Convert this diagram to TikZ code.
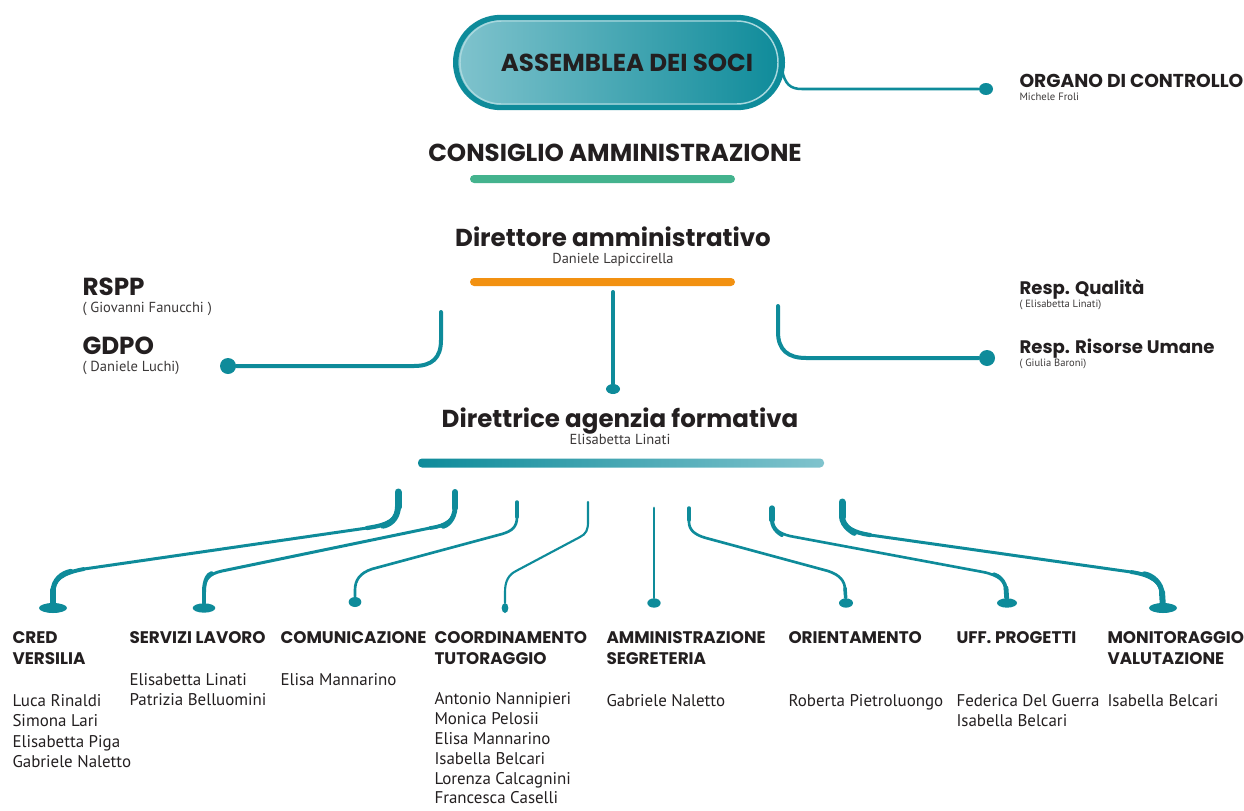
\documentclass[tikz,border=0pt]{standalone}
\usepackage{fontspec}
\setmainfont{PT Sans}
\newfontfamily\headfont{Poppins}
\usetikzlibrary{shapes.geometric}

\definecolor{tealdark}{HTML}{0E8B9A}
\definecolor{teallight}{HTML}{80C3CD}
\definecolor{tealpale}{HTML}{A9D8DE}
\definecolor{barGreen}{HTML}{44B38E}
\definecolor{barOrange}{HTML}{F29111}
\definecolor{ink}{HTML}{231F20}
\definecolor{subink}{HTML}{3B3838}

\tikzset{every picture/.style={line width=0.75pt}}
\tikzset{
  link/.style={draw=tealdark, line width=2.25pt, line cap=round},
  dot/.style={ellipse, fill=tealdark, inner sep=0pt},
  bar/.style={rounded corners=3pt, inner sep=0pt, minimum width=198.75pt, minimum height=6pt},
  bigtitle/.style={font=\headfont\bfseries\fontsize{18.4}{21}\selectfont, text=ink, inner sep=0pt},
  roletitle/.style={font=\headfont\bfseries\fontsize{13.6}{16}\selectfont, text=ink, inner sep=0pt},
  colhead/.style={font=\headfont\bfseries\fontsize{12.6}{15.75}\selectfont, text=ink, inner sep=0pt, align=left, anchor=north west},
  colnames/.style={font=\fontsize{12.7}{15.3}\selectfont, text=ink, inner sep=0pt, align=left, anchor=north west},
  who/.style={text=subink, inner sep=0pt}
}

\begin{document}
\begin{tikzpicture}[x=0.75pt,y=0.75pt,yscale=-1,xscale=1]
\useasboundingbox (0,0) rectangle (1244,810);

%Shape: Pill [id:assemblea]
\node[draw=tealdark, line width=4pt, rounded corners=33.7pt, left color=teallight, right color=tealdark,
      minimum width=245pt, minimum height=67.5pt, bigtitle] (assemblea) at (619,62.5) {\hspace{12pt}ASSEMBLEA DEI SOCI};
\draw[tealpale, line width=1.1pt, rounded corners=31pt] (460,21) rectangle (778,104);

%Organo di controllo
\coordinate (aout) at (782,70);
\node[dot, minimum width=10.5pt, minimum height=9pt] (odot) at (986,89) {};
\draw[link, line width=1.9pt] (aout) .. controls (785,84) and (790,89) .. (802,89) -- (odot);
\node[roletitle, font=\headfont\bfseries\fontsize{14}{16}\selectfont, anchor=base west] (organo) at (1019,87) {ORGANO DI CONTROLLO};
\node[who, font=\fontsize{8}{9}\selectfont, anchor=base west] (froli) at (1019,100) {Michele Froli};

%Consiglio
\node[bigtitle] (consiglio) at (615,153) {CONSIGLIO AMMINISTRAZIONE};
\node[bar, fill=barGreen] (cdabar) at (602.5,179) {};

%Direttore amministrativo
\node[bigtitle, text depth=0pt, anchor=base] (direttore) at (613,246) {Direttore amministrativo};
\node[who, font=\fontsize{10.8}{12}\selectfont, anchor=base] (lapiccirella) at (613,263) {Daniele Lapiccirella};
\node[bar, fill=barOrange] (dirbar) at (602.5,282) {};

%Straight Lines [id:direttore-direttrice]
\coordinate (dout) at (613,292);
\node[dot, minimum width=10.5pt, minimum height=7.5pt] (ddot) at (613,389) {};
\draw[link, line width=3pt] (dout) -- (ddot);

%RSPP / GDPO
\node[bigtitle, font=\headfont\bfseries\fontsize{18.5}{21}\selectfont, anchor=base west] (rspp) at (82,295) {RSPP};
\node[who, font=\fontsize{10.9}{12}\selectfont, anchor=base west] (fanucchi) at (82,312) {( Giovanni Fanucchi )};
\node[bigtitle, font=\headfont\bfseries\fontsize{18.5}{21}\selectfont, anchor=base west] (gdpo) at (82,354) {GDPO};
\node[who, font=\fontsize{10.9}{12}\selectfont, anchor=base west] (luchi) at (82,371) {( Daniele Luchi)};
\coordinate (lout) at (441,312);
\node[dot, minimum width=12pt, minimum height=12pt] (ldot) at (228,366) {};
\draw[link, line width=3pt] (lout) -- (441,340) .. controls (441,358) and (432,366) .. (414,366) -- (ldot);

%Resp. Qualita / Risorse Umane
\node[roletitle, anchor=base west] (qualita) at (1019,294) {Resp. Qualità};
\node[who, font=\fontsize{7.9}{9}\selectfont, anchor=base west] (linatiq) at (1019,307) {( Elisabetta Linati)};
\node[roletitle, anchor=base west] (risorse) at (1019,353) {Resp. Risorse Umane};
\node[who, font=\fontsize{7.9}{9}\selectfont, anchor=base west] (baroni) at (1019,366) {( Giulia Baroni)};
\coordinate (rout) at (778,306);
\node[dot, minimum width=12pt, minimum height=12pt] (rdot) at (987,358) {};
\draw[link, line width=3pt] (rout) -- (778,332) .. controls (778,350) and (788,358) .. (806,358) -- (rdot);

%Direttrice agenzia formativa
\node[bigtitle, text depth=0pt, anchor=base] (direttrice) at (620,427) {Direttrice agenzia formativa};
\node[who, font=\fontsize{10.9}{12}\selectfont, anchor=base] (linati) at (620,444) {Elisabetta Linati};
\node[bar, minimum width=304.5pt, minimum height=6.75pt, left color=tealdark, right color=teallight] (agbar) at (621,463) {};

%Branches: tops and feet
\coordinate (t1) at (398,492);
\coordinate (t2) at (455,492);
\coordinate (t3) at (517,502);
\coordinate (t4) at (588,502);
\coordinate (t5) at (654,508);
\coordinate (t6) at (689,508);
\coordinate (t7) at (772,508);
\coordinate (t8) at (842,502);
\node[dot, minimum width=21pt, minimum height=7.5pt] (f1) at (53,608) {};
\node[dot, minimum width=17pt, minimum height=7pt] (f2) at (204,608) {};
\node[dot, minimum width=9.5pt, minimum height=7.5pt] (f3) at (355,602) {};
\node[dot, minimum width=5pt, minimum height=7.5pt] (f4) at (505,608) {};
\node[dot, minimum width=10pt, minimum height=7pt] (f5) at (654,603) {};
\node[dot, minimum width=10.5pt, minimum height=7pt] (f6) at (846,603) {};
\node[dot, minimum width=15pt, minimum height=7pt] (f7) at (1007,603) {};
\node[dot, minimum width=21pt, minimum height=7.5pt] (f8) at (1163,608) {};

%Branch CRED
\draw[link] (t1) -- (398,506) .. controls (398,520) and (388,525) .. (367,528) -- (84,569) .. controls (62,573) and (53,580) .. (53,592) -- (f1);
\draw[link, line width=5.25pt] (t1) -- (398,507);
\draw[link, line width=4.4pt, shorten >=12pt] (398,506) .. controls (398,520) and (388,525) .. (367,528);
\draw[link, line width=3.2pt] (398,506) .. controls (398,520) and (388,525) .. (367,528);
\draw[link, line width=2.9pt] (84,569) .. controls (62,573) and (53,580) .. (53,592);
\draw[link, line width=3.8pt, shorten <=10pt] (84,569) .. controls (62,573) and (53,580) .. (53,592);
\draw[link, line width=4.5pt] (53,590) -- (f1);
%Branch SERVIZI LAVORO
\draw[link] (t2) -- (455,507) .. controls (455,520) and (446,526) .. (430,528) -- (222,571) .. controls (208,574) and (204,580) .. (204,592) -- (f2);
\draw[link, line width=4.5pt] (t2) -- (455,508);
\draw[link, line width=3.6pt, shorten >=10pt] (455,507) .. controls (455,520) and (446,526) .. (430,528);
\draw[link, line width=2.8pt] (455,507) .. controls (455,520) and (446,526) .. (430,528);
\draw[link, line width=3pt, shorten <=8pt] (222,571) .. controls (208,574) and (204,580) .. (204,592);
\draw[link, line width=3.6pt] (204,590) -- (f2);
%Branch COMUNICAZIONE
\draw[link, line width=2pt] (t3) -- (517,517) .. controls (517,527) and (512,531) .. (502,534) -- (372,569) .. controls (360,573) and (355,580) .. (355,590) -- (f3);
\draw[link, line width=2.6pt] (t3) -- (517,517);
%Branch COORDINAMENTO
\draw[link, line width=1.6pt] (t4) -- (588,522) .. controls (588,530) and (586,534) .. (580,537) -- (516,571) .. controls (508,575) and (505,582) .. (505,592) -- (f4);
%Branch AMMINISTRAZIONE
\draw[link, line width=2.2pt] (t5) -- (f5);
%Branch ORIENTAMENTO
\draw[link, line width=2pt] (t6) -- (689,522) .. controls (689,530) and (695,535) .. (706,538) -- (828,571) .. controls (840,575) and (845,581) .. (845,590) -- (f6);
\draw[link, line width=2.6pt] (t6) -- (689,520);
\draw[link, line width=2.6pt] (845,588) -- (f6);
%Branch UFF. PROGETTI
\draw[link, line width=2pt] (t7) -- (772,520) .. controls (772,530) and (782,535) .. (795,537) -- (983,572) .. controls (998,575) and (1006,581) .. (1006,591) -- (f7);
\draw[link, line width=4pt] (t7) -- (772,520);
\draw[link, line width=3pt, shorten >=10pt] (772,520) .. controls (772,530) and (782,535) .. (795,537);
\draw[link, line width=2.8pt, shorten <=8pt] (983,572) .. controls (998,575) and (1006,581) .. (1006,591);
\draw[link, line width=3.6pt] (1006,588) -- (f7);
%Branch MONITORAGGIO
\draw[link] (t8) -- (842,517) .. controls (842,527) and (855,533) .. (870,535) -- (1131,572) .. controls (1152,575) and (1162,583) .. (1162,594) -- (f8);
\draw[link, line width=5.25pt] (t8) -- (842,517);
\draw[link, line width=4.4pt, shorten >=12pt] (842,516) .. controls (842,527) and (855,533) .. (870,535);
\draw[link, line width=3.2pt] (842,516) .. controls (842,527) and (855,533) .. (870,535);
\draw[link, line width=2.9pt] (1131,572) .. controls (1152,575) and (1162,583) .. (1162,594);
\draw[link, line width=3.8pt, shorten <=10pt] (1131,572) .. controls (1152,575) and (1162,583) .. (1162,594);
\draw[link, line width=4.5pt] (1162,592) -- (f8);

% Text Node: column headings
\node[colhead] (hcred) at (12,631) {CRED\\VERSILIA};
\node[colhead] (hserv) at (129,631) {SERVIZI LAVORO};
\node[colhead] (hcom) at (280,631) {COMUNICAZIONE};
\node[colhead] (hcoord) at (434,631) {COORDINAMENTO\\TUTORAGGIO};
\node[colhead] (hamm) at (606,631) {AMMINISTRAZIONE\\SEGRETERIA};
\node[colhead] (hori) at (788,631) {ORIENTAMENTO};
\node[colhead] (huff) at (956,631) {UFF. PROGETTI};
\node[colhead] (hmon) at (1107,631) {MONITORAGGIO\\VALUTAZIONE};

% Text Node: names
\node[colnames] (ncred) at (12,694) {Luca Rinaldi\\Simona Lari\\Elisabetta Piga\\Gabriele Naletto};
\node[colnames] (nserv) at (129,673) {Elisabetta Linati\\Patrizia Belluomini};
\node[colnames] (ncom) at (280,673) {Elisa Mannarino};
\node[colnames, font=\fontsize{12.7}{14.9}\selectfont] (ncoord) at (434,692) {Antonio Nannipieri\\Monica Pelosii\\Elisa Mannarino\\Isabella Belcari\\Lorenza Calcagnini\\Francesca Caselli};
\node[colnames] (namm) at (606,694) {Gabriele Naletto};
\node[colnames] (nori) at (788,694) {Roberta Pietroluongo};
\node[colnames] (nuff) at (956,694) {Federica Del Guerra\\Isabella Belcari};
\node[colnames] (nmon) at (1107,694) {Isabella Belcari};

\end{tikzpicture}
\end{document}
